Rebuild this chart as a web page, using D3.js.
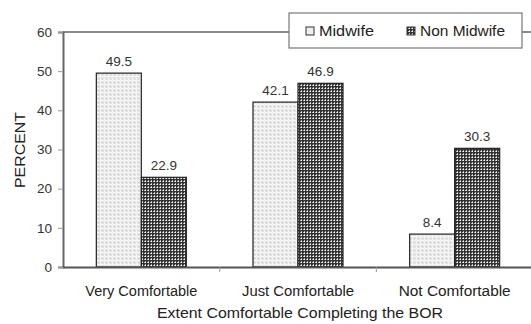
<!DOCTYPE html>
<html><head><meta charset="utf-8">
<script src="https://cdn.jsdelivr.net/npm/d3@7"></script>
<style>body{margin:0;background:#fff}svg{display:block;font-family:"Liberation Sans",Arial,sans-serif}</style>
</head><body><svg id="c" width="531" height="324"></svg>
<script>
const categories = ["Very Comfortable", "Just Comfortable", "Not Comfortable"];
const seriesNames = ["Midwife", "Non Midwife"];
const midwife = [49.5, 42.1, 8.4];
const nonMidwife = [22.9, 46.9, 30.3];
const yTicks = [0, 10, 20, 30, 40, 50, 60];
const xTitle = "Extent Comfortable Completing the BOR";
const yTitle = "PERCENT";

const svg = d3.select("#c");
const m = {l: 63, t: 32, r: 533, b: 267};
const x = d3.scaleBand().domain(categories).range([m.l, m.r]).paddingInner(0).paddingOuter(0);
const y = d3.scaleLinear().domain([0, 60]).range([m.b, m.t]);
const xs = d3.scaleBand().domain(seriesNames).range([0, 90]);

const defs = svg.append("defs");
const p1 = defs.append("pattern").attr("id","pm").attr("patternUnits","userSpaceOnUse").attr("width",4).attr("height",4);
p1.append("rect").attr("width",4).attr("height",4).attr("fill","#e4e4e4");
p1.append("rect").attr("x",0).attr("y",0).attr("width",4).attr("height",1).attr("fill","#f6f6f6");
p1.append("rect").attr("x",0).attr("y",0).attr("width",1).attr("height",4).attr("fill","#f4f4f4");
p1.append("rect").attr("x",2).attr("y",2).attr("width",1).attr("height",1).attr("fill","#cfcfcf");
const p2 = defs.append("pattern").attr("id","pn").attr("patternUnits","userSpaceOnUse").attr("width",3).attr("height",3);
p2.append("rect").attr("width",3).attr("height",3).attr("fill","#333");
p2.append("rect").attr("x",1).attr("y",1).attr("width",1).attr("height",1).attr("fill","#fff");
p2.append("rect").attr("x",0).attr("y",1).attr("width",1).attr("height",1).attr("fill","#b4b4b4");
p2.append("rect").attr("x",1).attr("y",0).attr("width",1).attr("height",1).attr("fill","#b4b4b4");

// top border
svg.append("line").attr("x1",m.l).attr("x2",531).attr("y1",m.t).attr("y2",m.t).attr("stroke","#666").attr("stroke-width",1.5);

// y axis
const ya = svg.append("g").attr("transform",`translate(${m.l},0)`)
  .call(d3.axisLeft(y).tickValues(yTicks).tickSize(5).tickPadding(6));
ya.select(".domain").attr("stroke","#666").attr("stroke-width",2);
ya.selectAll(".tick line").attr("stroke","#999");
ya.selectAll("text").attr("font-size",13.5).attr("fill","#333").attr("font-family","Liberation Sans, Arial, sans-serif");

const data = categories.map((c,i)=>({c, vals:[{s:seriesNames[0],v:midwife[i]},{s:seriesNames[1],v:nonMidwife[i]}]}));
const g = svg.append("g");
data.forEach(d=>{
  const cx = x(d.c) + x.bandwidth()/2 - 45;
  d.vals.forEach((e,j)=>{
    const bx = cx + xs(e.s);
    g.append("rect").attr("x",bx).attr("y",y(e.v)).attr("width",xs.bandwidth()).attr("height",y(0)-y(e.v))
      .attr("fill", j===0?"url(#pm)":"url(#pn)").attr("stroke","#222").attr("stroke-width",1.2);
    g.append("text").attr("x",bx+xs.bandwidth()/2).attr("y",y(e.v)-7).attr("text-anchor","middle")
      .attr("font-size",13.5).attr("fill","#333").text(e.v.toFixed(1));
  });
});

// x axis
const xa = svg.append("g").attr("transform",`translate(0,${m.b})`)
  .call(d3.axisBottom(x).tickSize(0).tickPadding(19));
xa.select(".domain").attr("stroke","#555").attr("stroke-width",2);
xa.selectAll("text").attr("font-size",14).attr("fill","#222").attr("font-family","Liberation Sans, Arial, sans-serif")
  .attr("textLength",112).attr("lengthAdjust","spacingAndGlyphs");
[categories[1],categories[2]].forEach(c=>{
  svg.append("line").attr("x1",x(c)).attr("x2",x(c)).attr("y1",m.b).attr("y2",m.b+5).attr("stroke","#999");
});

svg.append("text").attr("x",300).attr("y",318).attr("text-anchor","middle").attr("font-size",14.5).attr("fill","#222")
  .attr("textLength",286).attr("lengthAdjust","spacingAndGlyphs").text(xTitle);
svg.append("text").attr("transform","translate(25,150) rotate(-90)").attr("text-anchor","middle").attr("font-size",15).attr("fill","#222")
  .attr("textLength",76).attr("lengthAdjust","spacingAndGlyphs").text(yTitle);

// legend
const lg = svg.append("g");
lg.append("rect").attr("x",289).attr("y",13).attr("width",233).attr("height",35).attr("fill","#fff").attr("stroke","#777").attr("stroke-width",1.2);
const lx = [306, 407], tl = [55, 85];
seriesNames.forEach((s,i)=>{
  lg.append("rect").attr("x",lx[i]).attr("y",27).attr("width",8).attr("height",8)
    .attr("fill", i===0?"#eee":"url(#pn)").attr("stroke","#333").attr("stroke-width",1);
  lg.append("text").attr("x",lx[i]+13).attr("y",36).attr("font-size",15).attr("fill","#222")
    .attr("textLength",tl[i]).attr("lengthAdjust","spacingAndGlyphs").text(s);
});
</script></body></html>
